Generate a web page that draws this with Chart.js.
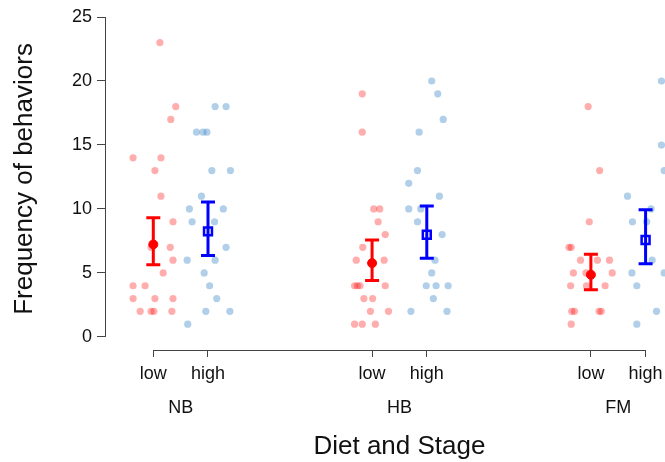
<!DOCTYPE html>
<html>
<head>
<meta charset="utf-8">
<script src="https://cdn.jsdelivr.net/npm/chart.js@4.4.1/dist/chart.umd.min.js"></script>
<style>
  body { margin: 0; background: #fff; }
  #wrap { width: 665px; height: 462px; position: relative; }
</style>
</head>
<body>
<div id="wrap"><canvas id="chart"></canvas></div>
<script>
// groups and stages
const groups = ['NB', 'HB', 'FM'];
const stages = ['low', 'high'];
const groupPos = [1, 5, 9];      // x slot of "low" for each group, "high" is +1
const xTitle = 'Diet and Stage';
const yTitle = 'Frequency of behaviors';

// raw values per group (low / high), with the jitter
const nbLow = [23, 18, 17, 14, 14, 13, 11, 9, 7, 7, 6, 5, 4, 4, 3, 3, 3, 2, 2, 2, 2];
const nbLowJit = [0.12, 0.41, 0.32, -0.37, 0.14, 0.03, 0.14, 0.36, -0.04, 0.31, 0.36, 0.18, -0.37, -0.15, -0.37, 0.03, 0.36, -0.24, -0.04, 0.01, 0.34];
const nbHigh = [18, 18, 16, 16, 16, 13, 13, 11, 10, 10, 9, 9, 7, 6, 6, 5, 4, 3, 2, 2, 1];
const nbHighJit = [0.13, 0.33, -0.21, -0.09, -0.02, 0.07, 0.41, -0.12, -0.34, 0.28, -0.29, 0.12, 0.33, -0.38, 0.13, -0.07, 0.03, 0.16, -0.04, 0.40, -0.37];

const hbLow = [19, 16, 10, 10, 9, 8, 7, 6, 6, 4, 4, 4, 4, 3, 3, 2, 2, 1, 1, 1];
const hbLowJit = [-0.18, -0.18, 0.03, 0.14, 0.11, 0.24, -0.17, -0.29, 0.22, -0.32, -0.27, -0.22, 0.24, -0.15, 0.01, -0.03, 0.30, -0.32, -0.18, 0.06];
const hbHigh = [20, 19, 17, 16, 13, 12, 11, 10, 10, 9, 8, 6, 5, 4, 4, 4, 3, 2, 2];
const hbHighJit = [0.09, 0.20, 0.30, -0.14, -0.17, -0.33, 0.23, -0.33, -0.11, -0.17, 0.28, 0.15, 0.09, -0.01, 0.17, 0.39, 0.12, -0.29, 0.37];

const fmLow = [18, 13, 9, 7, 7, 6, 6, 6, 5, 5, 5, 4, 4, 4, 2, 2, 2, 2, 1];
const fmLowJit = [-0.05, 0.16, -0.03, -0.40, -0.36, -0.19, 0.12, 0.34, -0.32, -0.09, 0.39, -0.37, -0.08, 0.26, -0.35, -0.30, 0.15, 0.19, -0.36];
const fmHigh = [20, 15, 13, 11, 10, 9, 9, 6, 5, 5, 4, 2, 1];
const fmHighJit = [0.29, 0.29, 0.34, -0.33, 0.10, -0.24, 0.02, 0.12, -0.25, 0.34, -0.16, 0.20, -0.16];

// means and error bar ends, per group
const lowMean = [7.23, 5.77, 4.86];
const lowLower = [5.64, 4.41, 3.68];
const lowUpper = [9.32, 7.57, 6.47];
const highMean = [8.25, 7.99, 7.57];
const highLower = [6.37, 6.14, 5.72];
const highUpper = [10.55, 10.23, 9.94];

const yTicks = [0, 5, 10, 15, 20, 25];

const FONT = 'Liberation Sans, Arial, Helvetica, sans-serif';
const RED = 'rgb(255,0,0)';
const BLUE = 'rgb(0,0,255)';
const AXIS = '#444';

function pts(vals, jit, base) {
    return vals.map((v, i) => ({ x: base + jit[i], y: v }));
}

const lowPoints = [].concat(
    pts(nbLow, nbLowJit, groupPos[0]),
    pts(hbLow, hbLowJit, groupPos[1]),
    pts(fmLow, fmLowJit, groupPos[2])
);
const highPoints = [].concat(
    pts(nbHigh, nbHighJit, groupPos[0] + 1),
    pts(hbHigh, hbHighJit, groupPos[1] + 1),
    pts(fmHigh, fmHighJit, groupPos[2] + 1)
);

const xTicks = [];
groupPos.forEach(p => { xTicks.push(p, p + 1); });

// R style axes, error bars, group names and axis titles
const rStyle = {
    id: 'rStyle',
    afterDatasetsDraw(chart) {
        const { ctx, scales: { x, y } } = chart;
        ctx.save();
        ctx.lineWidth = 3;
        const bar = (xv, lo, hi, col) => {
            const px = x.getPixelForValue(xv);
            const y1 = y.getPixelForValue(lo), y2 = y.getPixelForValue(hi);
            ctx.strokeStyle = col;
            ctx.beginPath();
            ctx.moveTo(px, y1); ctx.lineTo(px, y2);
            ctx.moveTo(px - 7, y1); ctx.lineTo(px + 7, y1);
            ctx.moveTo(px - 7, y2); ctx.lineTo(px + 7, y2);
            ctx.stroke();
        };
        groupPos.forEach((p, i) => {
            bar(p, lowLower[i], lowUpper[i], RED);
            bar(p + 1, highLower[i], highUpper[i], BLUE);
        });
        ctx.restore();
    },
    afterDraw(chart) {
        const { ctx, scales: { x, y } } = chart;
        ctx.save();
        ctx.strokeStyle = AXIS;
        ctx.lineWidth = 1;
        // y axis line 0..25
        const ax = Math.round(chart.chartArea.left) + 0.5;
        ctx.beginPath();
        ctx.moveTo(ax, y.getPixelForValue(yTicks[0]));
        ctx.lineTo(ax, y.getPixelForValue(yTicks[yTicks.length - 1]));
        // x axis line from first to last tick
        const ay = Math.round(chart.chartArea.bottom) + 0.5;
        const xa = x.getPixelForValue(xTicks[0]);
        const xb = x.getPixelForValue(xTicks[xTicks.length - 1]);
        ctx.moveTo(xa, ay);
        ctx.lineTo(xb, ay);
        ctx.stroke();
        // group names
        ctx.fillStyle = '#111';
        ctx.font = '18px ' + FONT;
        ctx.textAlign = 'center';
        ctx.textBaseline = 'middle';
        groupPos.forEach((p, i) => {
            ctx.fillText(groups[i], x.getPixelForValue(p + 0.5), ay + 58);
        });
        // axis titles, centred on the drawn axis lines
        ctx.font = '26px ' + FONT;
        ctx.fillText(xTitle, (xa + xb) / 2, 447);
        const ym = (y.getPixelForValue(yTicks[0]) + y.getPixelForValue(yTicks[yTicks.length - 1])) / 2 + 2;
        ctx.translate(24.5, ym);
        ctx.rotate(-Math.PI / 2);
        ctx.fillText(yTitle, 0, 0);
        ctx.restore();
    }
};

new Chart(document.getElementById('chart'), {
    type: 'scatter',
    data: {
        datasets: [
            { label: 'low mean', data: groupPos.map((p, i) => ({ x: p, y: lowMean[i] })),
              pointStyle: 'circle', radius: 4.5, backgroundColor: RED, borderColor: RED, borderWidth: 1 },
            { label: 'high mean', data: groupPos.map((p, i) => ({ x: p + 1, y: highMean[i] })),
              pointStyle: 'rect', radius: 5.6, backgroundColor: 'rgba(0,0,0,0)', borderColor: BLUE, borderWidth: 2.5 },
            { label: 'low', data: lowPoints, radius: 3.6, borderWidth: 0,
              backgroundColor: 'rgba(255,0,0,0.32)' },
            { label: 'high', data: highPoints, radius: 3.6, borderWidth: 0,
              backgroundColor: 'rgba(70,140,200,0.42)' }
        ]
    },
    options: {
        responsive: true,
        maintainAspectRatio: false,
        animation: false,
        layout: { autoPadding: false, padding: { top: 17, right: 0, bottom: 0, left: 0 } },
        plugins: {
            legend: { display: false },
            tooltip: { enabled: false }
        },
        scales: {
            x: {
                type: 'linear',
                min: 0.117,
                max: 10.355,
                afterBuildTicks: s => { s.ticks = xTicks.map(v => ({ value: v })); },
                afterFit: s => { s.height = 112; s.paddingLeft = 0; s.paddingRight = 0; },
                border: { display: false },
                grid: { drawOnChartArea: false, drawTicks: true, tickLength: 7, color: AXIS },
                ticks: {
                    autoSkip: false, maxRotation: 0, padding: 6,
                    color: '#111', font: { family: FONT, size: 18 },
                    callback: v => stages[xTicks.indexOf(v) % 2]
                }
            },
            y: {
                min: -1.02,
                max: 25,
                afterBuildTicks: s => { s.ticks = yTicks.map(v => ({ value: v })); },
                afterFit: s => { s.width = 105; },
                border: { display: false },
                grid: { drawOnChartArea: false, drawTicks: true, tickLength: 8, color: AXIS },
                ticks: { padding: 5, color: '#111', font: { family: FONT, size: 18 } }
            }
        }
    },
    plugins: [rStyle]
});
</script>
</body>
</html>
